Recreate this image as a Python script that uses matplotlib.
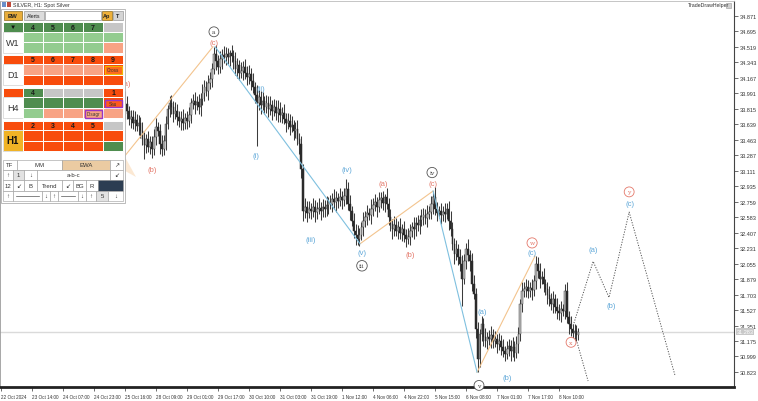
import matplotlib
matplotlib.use('Agg')
import matplotlib.pyplot as plt
from matplotlib.patches import Rectangle, Polygon

# ---------------- data ----------------
start_bar = 58
first_open = 33.45
closes = [
    33.41, 33.49, 33.47, 33.56, 33.64, 33.76, 33.87, 33.79, 33.70, 33.72,
    33.65, 33.69, 33.62, 33.65, 33.56, 33.47, 33.40, 33.47, 33.38, 33.44,
    33.36, 33.49, 33.61, 33.56, 33.41, 33.36, 33.45, 33.64, 33.81, 33.88,
    33.84, 33.76, 33.79, 33.72, 33.68, 33.70, 33.65, 33.71, 33.68, 33.74,
    33.88, 33.90, 33.86, 33.89, 33.84, 33.93, 33.99, 34.06, 34.02, 34.11,
    34.15, 34.27, 34.44, 34.36, 34.29, 34.38, 34.43, 34.40, 34.44, 34.40,
    34.45, 34.41, 34.36, 34.27, 34.31, 34.22, 34.24, 34.29, 34.22, 34.18,
    34.21, 34.13, 34.06, 33.97, 33.88, 33.95, 33.86, 33.90, 33.84, 33.88,
    33.81, 33.86, 33.79, 33.84, 33.77, 33.81, 33.74, 33.77, 33.70, 33.65,
    33.68, 33.61, 33.63, 33.56, 33.58, 33.47, 33.41, 33.13, 32.65, 32.70,
    32.63, 32.68, 32.65, 32.70, 32.64, 32.68, 32.69, 32.65, 32.70, 32.68,
    32.72, 32.75, 32.73, 32.79, 32.75, 32.80, 32.77, 32.81, 32.78, 32.82,
    32.90, 32.73, 32.65, 32.54, 32.43, 32.38, 32.34, 32.38, 32.47, 32.54,
    32.58, 32.63, 32.61, 32.68, 32.72, 32.75, 32.70, 32.78, 32.80, 32.74,
    32.81, 32.73, 32.58, 32.50, 32.45, 32.49, 32.43, 32.47, 32.40, 32.45,
    32.38, 32.34, 32.36, 32.43, 32.47, 32.45, 32.52, 32.49, 32.55, 32.58,
    32.61, 32.57, 32.62, 32.64, 32.73, 32.81, 32.68, 32.63, 32.65, 32.61,
    32.64, 32.62, 32.68, 32.54, 32.45, 32.28, 32.16, 32.22, 32.13, 32.05,
    31.88, 32.08, 32.22, 32.15, 32.08, 31.82, 31.71, 31.31, 30.97, 31.25,
    31.37, 31.22, 31.17, 31.22, 31.20, 31.24, 31.17, 31.20, 31.14, 31.17,
    31.11, 31.06, 31.03, 31.08, 31.12, 31.06, 31.11, 31.04, 31.14, 31.25,
    31.59, 31.74, 31.77, 31.79, 31.74, 31.78, 31.75, 31.86, 32.05, 31.97,
    31.88, 31.90, 31.82, 31.77, 31.70, 31.65, 31.59, 31.65, 31.56, 31.52,
    31.49, 31.54, 31.52, 31.74, 31.45, 31.37, 31.31, 31.27, 31.29, 31.24,
    31.28,
]
wick_up = [
    .07, .09, .06, .10, .08, .07, .15, .09, .06, .08,
    .08, .10, .06, .09, .07, .11, .08, .06, .09, .07,
    .07, .09, .10, .06, .08, .11, .07, .09, .05, .08,
    .09, .06, .10, .08, .07, .09, .11, .06, .08, .10,
    .06, .08, .10, .07, .09, .06, .11, .08, .07, .09,
    .08, .06, .08, .10, .07, .09, .06, .10, .08, .07,
    .03, .09, .07, .10, .08, .06, .11, .07, .09, .08,
    .10, .07, .09, .06, .11, .08, .07, .10, .06, .09,
    .08, .10, .06, .09, .07, .11, .08, .06, .10, .07,
    .09, .07, .10, .06, .08, .11, .07, .09, .06, .10,
    .07, .09, .06, .10, .08, .07, .11, .06, .09, .08,
    .10, .06, .09, .07, .11, .08, .06, .10, .07, .09,
    .12, .08, .10, .06, .09, .07, .11, .08, .06, .10,
    .07, .09, .06, .11, .08, .10, .06, .09, .07, .08,
    .04, .10, .07, .09, .06, .11, .08, .07, .10, .06,
    .09, .07, .10, .08, .06, .11, .07, .09, .06, .10,
    .08, .06, .10, .07, .09, .07, .11, .08, .06, .09,
    .07, .10, .06, .09, .11, .08, .07, .10, .06, .09,
    .10, .08, .07, .11, .06, .09, .10, .07, .08, .06,
    .09, .07, .10, .06, .08, .11, .07, .09, .06, .10,
    .07, .09, .06, .10, .08, .07, .11, .06, .09, .08,
    .06, .10, .07, .09, .08, .06, .10, .07, .09, .08,
    .09, .07, .11, .06, .08, .10, .07, .09, .06, .10,
    .07, .09, .06, .08, .10, .07, .09, .06, .08, .07,
    .04,
]
wick_dn = [
    .08, .06, .09, .07, .10, .08, .06, .09, .07, .10,
    .07, .09, .06, .10, .08, .07, .16, .09, .06, .08,
    .10, .07, .09, .06, .11, .08, .07, .10, .06, .09,
    .08, .10, .06, .09, .07, .11, .08, .06, .10, .07,
    .09, .07, .10, .06, .08, .11, .07, .09, .06, .10,
    .07, .09, .06, .10, .08, .07, .11, .06, .09, .08,
    .10, .06, .09, .07, .11, .08, .06, .10, .07, .09,
    .08, .10, .07, .09, .49, .08, .10, .06, .09, .07,
    .09, .07, .10, .06, .08, .11, .07, .09, .06, .10,
    .07, .09, .06, .10, .08, .07, .11, .10, .11, .08,
    .10, .06, .09, .07, .11, .08, .06, .10, .07, .09,
    .08, .10, .06, .09, .07, .11, .08, .06, .10, .07,
    .09, .07, .10, .06, .08, .11, .07, .09, .06, .10,
    .07, .09, .06, .10, .08, .07, .11, .06, .09, .08,
    .10, .06, .09, .07, .11, .08, .06, .10, .07, .09,
    .08, .10, .06, .09, .07, .11, .08, .06, .10, .07,
    .09, .07, .10, .06, .08, .11, .07, .09, .06, .10,
    .07, .09, .06, .10, .08, .07, .11, .06, .09, .08,
    .31, .06, .09, .07, .11, .08, .06, .10, .15, .09,
    .08, .10, .06, .09, .07, .11, .08, .06, .10, .07,
    .09, .07, .08, .06, .08, .11, .07, .09, .06, .10,
    .07, .09, .06, .10, .08, .07, .11, .06, .09, .08,
    .10, .06, .09, .07, .11, .08, .06, .10, .07, .09,
    .08, .10, .06, .09, .07, .11, .08, .06, .10, .07,
    .05,
]
current_price = 31.28
current_price_label = "31.283"

ytick_values = [34.871, 34.695, 34.519, 34.343, 34.167, 33.991, 33.815, 33.639,
                33.463, 33.287, 33.111, 32.935, 32.759, 32.583, 32.407, 32.231,
                32.055, 31.879, 31.703, 31.527, 31.351, 31.175, 30.999, 30.823]
xtick_bars = [0, 16, 32, 48, 64, 80, 96, 112, 128, 144, 160, 176, 192, 208,
              224, 240, 256, 272, 288]
xtick_labels = ["22 Oct 2024", "23 Oct 14:00", "24 Oct 07:00", "24 Oct 23:00",
                "25 Oct 16:00", "28 Oct 09:00", "29 Oct 01:00", "29 Oct 17:00",
                "30 Oct 10:00", "31 Oct 03:00", "31 Oct 19:00", "1 Nov 12:00",
                "4 Nov 06:00", "4 Nov 22:00", "5 Nov 15:00", "6 Nov 08:00",
                "7 Nov 01:00", "7 Nov 17:00", "8 Nov 10:00"]

# wave pivot lines (bar, price)
orange_lines = [
    ([61.4, 109.4], [33.21, 34.52]),
    ([185.3, 223.0], [32.28, 32.88]),
    ([245.7, 275.6], [30.82, 32.14]),
]
blue_lines = [
    ([110.5, 185.3], [34.52, 32.28]),
    ([223.0, 245.7], [32.88, 30.82]),
]
proj_bars = [295.3, 305.6, 313.8, 324.2, 347.9]
proj_prices = [31.35, 32.08, 31.67, 32.64, 30.78]
proj2_bars = [297.3, 303.0]
proj2_prices = [31.16, 30.72]

# wave labels: bar, price, text, colour, circled
wave_labels = [
    (64.5, 34.10, "(a)", "red", False),
    (78.0, 33.13, "(b)", "red", False),
    (109.9, 34.69, "a", "gray", True),
    (109.9, 34.57, "(c)", "red", False),
    (134.2, 34.04, "(ii)", "blue", False),
    (131.6, 33.28, "(i)", "blue", False),
    (20.1, 33.28, "(i)", "blue", False),
    (160.0, 32.33, "(iii)", "blue", False),
    (178.6, 33.13, "(iv)", "blue", False),
    (186.3, 32.18, "(v)", "blue", False),
    (186.3, 32.03, "iii", "gray", True),
    (197.2, 32.96, "(a)", "red", False),
    (211.1, 32.16, "(b)", "red", False),
    (222.5, 33.09, "iv", "gray", True),
    (223.0, 32.97, "(c)", "red", False),
    (248.3, 31.51, "(a)", "blue", False),
    (246.7, 30.67, "v", "gray", True),
    (261.2, 30.76, "(b)", "blue", False),
    (274.1, 32.29, "w", "red", True),
    (274.1, 32.18, "(c)", "blue", False),
    (294.2, 31.16, "x", "red", True),
    (305.6, 32.21, "(a)", "blue", False),
    (314.9, 31.58, "(b)", "blue", False),
    (324.2, 32.87, "y", "red", True),
    (324.7, 32.74, "(c)", "blue", False),
]

# ---------------- figure ----------------
plt.rcParams['font.family'] = ['Liberation Sans', 'DejaVu Sans']
W, H = 758, 402
fig = plt.figure(figsize=(W / 100, H / 100), dpi=100)
fig.patch.set_facecolor('white')
ax = fig.add_axes([0, 14 / H, 734 / W, 386 / H])
ax.set_xlim(-0.5, 378.3)
ax.set_ylim(30.652, 35.040)
ax.set_facecolor('white')

n = len(closes)
bars = list(range(start_bar, start_bar + n))
opens = [first_open] + closes[:-1]
highs = [max(o, c) + u for o, c, u in zip(opens, closes, wick_up)]
lows = [min(o, c) - d for o, c, d in zip(opens, closes, wick_dn)]

ax.vlines(bars, lows, highs, color='#3c3c3c', lw=0.75, zorder=3)
for b, o, c in zip(bars, opens, closes):
    up = c >= o
    ax.bar(b, c - o if abs(c - o) > 0.004 else 0.008, bottom=o, width=0.85,
           color='#bdbdbd' if up else '#2a2a2a',
           edgecolor='#444444' if up else '#2a2a2a', linewidth=0.35, zorder=4)

# current price line
ax.axhline(current_price, color='#dadada', lw=1.0, zorder=2)

# wave lines
for xs, ys in orange_lines:
    ax.plot(xs, ys, color='#f3c48e', lw=0.8, zorder=5)
for xs, ys in blue_lines:
    ax.plot(xs, ys, color='#7fc0df', lw=0.8, zorder=5)
ax.plot(proj_bars, proj_prices, color='#555555', lw=0.7, ls=(0, (1.2, 1.5)), zorder=5)
ax.plot(proj2_bars, proj2_prices, color='#555555', lw=0.7, ls=(0, (1.2, 1.5)), zorder=5)

col = {'red': '#e4786a', 'blue': '#5ea7d8', 'gray': '#555555'}
for b, p, t, c, circ in wave_labels:
    if circ:
        ax.text(b, p, t, ha='center', va='center', fontsize=4.4,
                color=col[c] if c != 'gray' else '#444',
                family='DejaVu Serif', zorder=7, clip_on=False,
                bbox=dict(boxstyle='circle,pad=0.4', fc='white', ec=col[c], lw=0.6))
    else:
        ax.text(b, p, t, ha='center', va='center', fontsize=5.5, color=col[c], zorder=7)

# axes styling
ax.yaxis.tick_right()
ax.set_yticks(ytick_values)
ax.set_yticklabels([f"{v:.3f}" for v in ytick_values])
ax.tick_params(axis='y', direction='out', length=3, width=0.5, labelsize=4.0,
               pad=1, colors='#333333')
ax.set_xticks(xtick_bars)
ax.set_xticklabels(xtick_labels, ha='left')
ax.tick_params(axis='x', direction='out', length=3, width=0.5, labelsize=3.3,
               pad=2, colors='#333333')
for lab in ax.get_xticklabels():
    lab.set_horizontalalignment('left')
ax.spines['bottom'].set_linewidth(2.0)
ax.spines['bottom'].set_color('#222222')
ax.spines['right'].set_linewidth(0.8)
ax.spines['right'].set_color('#444444')
ax.spines['left'].set_linewidth(0.6)
ax.spines['left'].set_color('#999999')
ax.spines['top'].set_linewidth(0.6)
ax.spines['top'].set_color('#bbbbbb')

ax.text(1.0035, current_price, current_price_label, transform=ax.get_yaxis_transform(),
        ha='left', va='center', fontsize=4.0, color='white', zorder=8, clip_on=False,
        bbox=dict(boxstyle='square,pad=0.15', fc='#c8c8c8', ec='none'))

# ---------------- overlay (pixel coordinates) ----------------
ov = fig.add_axes([0, 0, 1, 1], zorder=10)
ov.set_xlim(0, W)
ov.set_ylim(H, 0)
ov.axis('off')
ov.patch.set_alpha(0)

ov.text(688, 6, "TradeDrawHelper", ha='left', va='center', fontsize=3.8, color='#333')
ov.add_patch(Rectangle((726, 3.5), 5, 5, fc='#d0d0d0', ec='#999', lw=0.4))

# pale fan near panel
ov.add_patch(Polygon([(112, 150), (125, 158), (136, 178), (118, 168)], closed=True,
                     fc='#fbe3c8', ec='none', alpha=0.8, zorder=1))


def box(x0, y0, x1, y1, fc, ec='white', lw=0.7, z=10):
    ov.add_patch(Rectangle((x0, y0), x1 - x0, y1 - y0, facecolor=fc, edgecolor=ec,
                           linewidth=lw, zorder=z))


def txt(x, y, s, size=5.0, color='#222', weight='normal', z=12, ha='center'):
    ov.text(x, y, s, ha=ha, va='center', fontsize=size, color=color,
            fontweight=weight, zorder=z)


# panel background
box(1, 10, 125, 204, 'white', ec='#b0b0b0', lw=0.6, z=9)
# title
box(2, 3, 6, 8, '#6a8fc8', ec='none', z=11)
box(7, 3, 11, 8, '#c04a3a', ec='none', z=11)
txt(13, 5.5, "SILVER, H1: Spot Silver", size=3.8, ha='left', color='#333')

# top buttons
box(4, 12, 22, 21, '#e9ad3a', ec='#8a6a20', lw=0.5)
txt(13, 16.5, "BW", size=4.2, weight='bold')
box(24, 12, 44, 21, '#dcdcdc', ec='#999', lw=0.5)
txt(34, 16.5, "Alerts", size=3.8)
box(45, 12, 101, 21, 'white', ec='#999', lw=0.5)
box(102, 12, 112, 21, '#eeb03a', ec='#8a6a20', lw=0.5)
txt(107, 16.5, "Ap", size=4.0, weight='bold')
box(113, 12, 123, 21, '#d4d4d4', ec='#999', lw=0.5)
txt(118, 16.5, "T", size=4.0, weight='bold')

DG = '#4f8d4f'
LG = '#93cc8f'
OR = '#f84c0c'
LS = '#f8a384'
GR = '#c6c6c6'
cols = [(23, 43), (43, 63), (63, 83), (83, 103), (103, 123)]

blocks = [
    (23, "W1", 'white', DG, [DG, DG, DG, DG, GR], ["4", "5", "6", "7", ""],
     [LG, LG, LG, LG, LG], [LG, LG, LG, LG, LS]),
    (55.5, "D1", 'white', OR, [OR, OR, OR, OR, OR], ["5", "6", "7", "8", "9"],
     [LS, LS, LS, LS, OR], [OR, OR, OR, OR, OR]),
    (88.5, "H4", 'white', OR, [DG, GR, GR, GR, OR], ["4", "", "", "", "1"],
     [DG, DG, DG, DG, OR], [LG, LS, LS, LS, LS]),
    (121.5, "H1", '#f0b326', OR, [OR, OR, OR, OR, GR], ["2", "3", "4", "5", ""],
     [OR, OR, OR, OR, OR], [OR, OR, OR, OR, DG]),
]
for top, lab, lbg, h0, hc, ht, r2, r3 in blocks:
    y0, y1, y2, y3 = top, top + 9.5, top + 20, top + 30.5
    box(3, y0, 23, y1, h0)
    box(3, y1, 23, y3, lbg, ec='#dddddd')
    if lab == "H1":
        txt(13, (y1 + y3) / 2, lab, size=7.0, weight='bold', color='#111')
    else:
        txt(13, (y1 + y3) / 2, lab, size=6.5, color='#333')
    if lab == "W1":
        txt(13, (y0 + y1) / 2, "\u25BC", size=4.5, color='#111')
    for (xa, xb), c, t in zip(cols, hc, ht):
        box(xa, y0, xb, y1, c)
        if t:
            txt((xa + xb) / 2, (y0 + y1) / 2 + 0.3, t, size=5.0, weight='bold', color='#1a1a1a')
    for (xa, xb), c in zip(cols, r2):
        box(xa, y1, xb, y2, c)
    for (xa, xb), c in zip(cols, r3):
        box(xa, y2, xb, y3, c)

# small tag boxes
box(104.5, 67, 121.5, 74.5, '#ff6a1c', ec='#f2b400', lw=0.8, z=11)
txt(113, 70.8, "Cross", size=3.3, color='#333')
box(104.5, 100.5, 121.5, 108, '#ff5a1c', ec='#9a35c4', lw=1.0, z=11)
txt(113, 104.3, "Sau", size=3.3, color='#333')
box(84.5, 111, 101.5, 118.5, '#f8a384', ec='#9a35c4', lw=1.0, z=11)
txt(93, 114.8, "Disagr", size=3.3, color='#333')

# button rows
BE = '#9a9a9a'
def btn(x0, x1, y0, y1, s, fc='white', size=4.3):
    box(x0, y0, x1, y1, fc, ec=BE, lw=0.4, z=10)
    if s:
        txt((x0 + x1) / 2, (y0 + y1) / 2, s, size=size, color='#333')

r = (160.5, 171)
btn(3, 17, *r, "TF"); btn(17, 62, *r, "MM"); btn(62, 110, *r, "EWA", fc='#ebcba2')
btn(110, 123, *r, "\u2197")
r = (171, 181)
btn(3, 13, *r, "\u2191"); btn(13, 24, *r, "1", fc='#e2e2e2'); btn(24, 37, *r, "\u2193")
btn(37, 110, *r, "a-b-c"); btn(110, 123, *r, "\u2199")
r = (181, 191.5)
btn(3, 13, *r, "12"); btn(13, 24, *r, "\u2199"); btn(24, 37, *r, "B")
btn(37, 62, *r, "Trend"); btn(62, 73, *r, "\u2199"); btn(73, 86, *r, "BG")
btn(86, 98, *r, "R"); btn(98, 123, *r, "", fc='#2c3d52')
r = (191.5, 202)
btn(3, 13, *r, "\u2191"); btn(13, 42, *r, "")
ov.plot([16, 39], [196.7, 196.7], color='#555', lw=0.5, zorder=12)
btn(42, 50, *r, "\u2193"); btn(50, 58, *r, "\u2191"); btn(58, 78, *r, "")
ov.plot([61, 75], [196.7, 196.7], color='#555', lw=0.5, zorder=12)
btn(78, 86, *r, "\u2193"); btn(86, 96, *r, "\u2191"); btn(96, 108, *r, "5", fc='#e2e2e2')
btn(108, 123, *r, "\u2193")

fig.savefig('out.png', dpi=100, facecolor='white')
